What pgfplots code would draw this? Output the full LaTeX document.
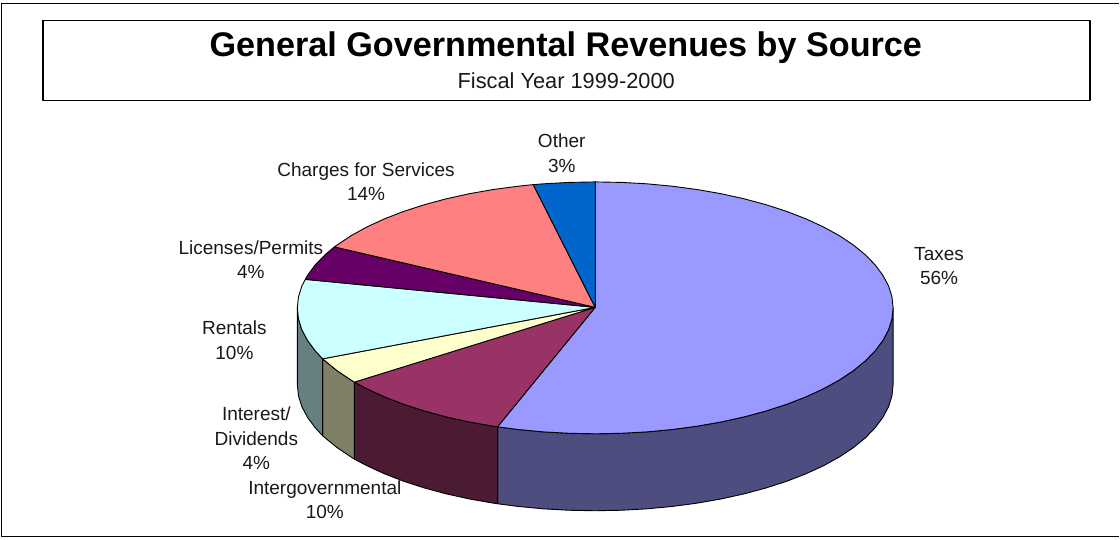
\documentclass[border=0pt]{standalone}
\usepackage{fontspec}
\setmainfont{Liberation Sans}
\usepackage{pgfplots}
\pgfplotsset{compat=1.18}

\definecolor{taxes}{HTML}{9999FF}
\definecolor{taxesside}{HTML}{4D4D80}
\definecolor{intergov}{HTML}{993366}
\definecolor{intergovside}{HTML}{4D1A33}
\definecolor{interest}{HTML}{FFFFCC}
\definecolor{interestside}{HTML}{808066}
\definecolor{rentals}{HTML}{CCFFFF}
\definecolor{rentalsside}{HTML}{668080}
\definecolor{licenses}{HTML}{660066}
\definecolor{charges}{HTML}{FF8080}
\definecolor{other}{HTML}{0066CC}

\tikzset{lbl/.style={font=\fontsize{19}{24.5}\selectfont, align=center, inner sep=0pt, text=black!90}}

\begin{document}
\begin{tikzpicture}
\begin{axis}[
    scale only axis,
    width=1120pt, height=540pt,
    xmin=0.5, xmax=1120.5,
    ymin=0, ymax=540,
    y dir=reverse,
    hide axis,
    clip=false,
    no markers,
    every axis plot/.append style={draw=black, line width=0.9pt, line join=round},
]
\path (axis cs:0.5,0) rectangle (axis cs:1120.5,540);

% outer frame, open on the right
\addplot[line width=1.1pt] coordinates {(1120.5,3.5)(2,3.5)(2,536.5)(1120.5,536.5)};
% title box
\addplot[line width=1.4pt] coordinates {(43.5,20.5)(1091,20.5)(1091,100.5)(43.5,100.5)(43.5,20.5)};

% sides
\addplot[fill=taxesside] coordinates {
(894,308)(892.9,319)(889.5,329.9)(883.8,340.6)(876,351.1)(866.1,361.2)(854.1,371)(840.1,380.3)(824.3,389)(806.7,397.1)
(787.6,404.5)(766.9,411.2)(745,417.1)(721.9,422.2)(697.9,426.4)(673.1,429.7)(647.7,432.1)(622,433.5)(596,434)(570,433.5)
(544.3,432.1)(518.9,429.7)(498.3,427)
(498.3,504)(518.9,506.7)(544.3,509.1)(570,510.5)(596,511)(622,510.5)(647.7,509.1)(673.1,506.7)(697.9,503.4)(721.9,499.2)
(745,494.1)(766.9,488.2)(787.6,481.5)(806.7,474.1)(824.3,466)(840.1,457.3)(854.1,448)(866.1,438.2)(876,428.1)(883.8,417.6)
(889.5,406.9)(892.9,396)(894,385)(894,308)};
\addplot[fill=intergovside] coordinates {
(498.3,427)(494.1,426.4)(470.1,422.2)(447,417.1)(425.1,411.2)(404.4,404.5)(385.3,397.1)(367.7,389)(355,382.3)
(355,459.3)(367.7,466)(385.3,474.1)(404.4,481.5)(425.1,488.2)(447,494.1)(470.1,499.2)(494.1,503.4)(498.3,504)(498.3,427)};
\addplot[fill=interestside] coordinates {
(355,382.3)(351.9,380.3)(337.9,371)(325.9,361.2)(323.3,359)
(323.3,436)(325.9,438.2)(337.9,448)(351.9,457.3)(355,459.3)(355,382.3)};
\addplot[fill=rentalsside] coordinates {
(323.3,359)(316,351.1)(308.2,340.6)(302.5,329.9)(299.1,319)(298,308)
(298,385)(299.1,396)(302.5,406.9)(308.2,417.6)(316,428.1)(323.3,436)(323.3,359)};

% top faces
\addplot[fill=taxes] coordinates {
(596,307.5)(596,182)(622,182.5)(647.7,183.9)(673.1,186.3)(697.9,189.6)(721.9,193.8)(745,198.9)(766.9,204.8)(787.6,211.5)
(806.7,218.9)(824.3,227)(840.1,235.7)(854.1,245)(866.1,254.8)(876,264.9)(883.8,275.4)(889.5,286.1)(892.9,297)(894,308)
(892.9,319)(889.5,329.9)(883.8,340.6)(876,351.1)(866.1,361.2)(854.1,371)(840.1,380.3)(824.3,389)(806.7,397.1)(787.6,404.5)
(766.9,411.2)(745,417.1)(721.9,422.2)(697.9,426.4)(673.1,429.7)(647.7,432.1)(622,433.5)(596,434)(570,433.5)(544.3,432.1)
(518.9,429.7)(498.3,427)(596,307.5)};
\addplot[fill=intergov] coordinates {
(596,307.5)(498.3,427)(494.1,426.4)(470.1,422.2)(447,417.1)(425.1,411.2)(404.4,404.5)(385.3,397.1)(367.7,389)(355,382.3)(596,307.5)};
\addplot[fill=interest] coordinates {
(596,307.5)(355,382.3)(351.9,380.3)(337.9,371)(325.9,361.2)(323.3,359)(596,307.5)};
\addplot[fill=rentals] coordinates {
(596,307.5)(323.3,359)(316,351.1)(308.2,340.6)(302.5,329.9)(299.1,319)(298,308)(299.1,297)(302.5,286.1)(306,279.5)(596,307.5)};
\addplot[fill=licenses] coordinates {
(596,307.5)(306,279.5)(308.2,275.4)(316,264.9)(325.9,254.8)(335,247)(596,307.5)};
\addplot[fill=charges] coordinates {
(596,307.5)(335,247)(337.9,245)(351.9,235.7)(367.7,227)(385.3,218.9)(404.4,211.5)(425.1,204.8)(447,198.9)(470.1,193.8)
(494.1,189.6)(518.9,186.3)(534,184.7)(596,307.5)};
\addplot[fill=other] coordinates {
(596,307.5)(534,184.7)(544.3,183.9)(570,182.5)(596,182)(596,307.5)};

% titles
\node[font=\bfseries\fontsize{34.2}{38}\selectfont, inner sep=0pt, anchor=base, text=black] at (axis cs:566.6,56.5) {General Governmental Revenues by Source};
\node[font=\fontsize{21.8}{26}\selectfont, inner sep=0pt, anchor=base, text=black!90] at (axis cs:567,88.2) {Fiscal Year 1999-2000};

% slice labels
\node[lbl] at (axis cs:940,266.3) {Taxes\\56\%};
\node[lbl] at (axis cs:562.5,153.5) {Other\\3\%};
\node[lbl] at (axis cs:366.7,181.7) {Charges for Services\\14\%};
\node[lbl] at (axis cs:251.5,260) {Licenses/Permits\\4\%};
\node[lbl] at (axis cs:235,340.5) {Rentals\\10\%};
\node[lbl] at (axis cs:257,438.8) {Interest/\\Dividends\\4\%};
\node[lbl] at (axis cs:325.5,500) {Intergovernmental\\10\%};
\end{axis}
\end{tikzpicture}
\end{document}
